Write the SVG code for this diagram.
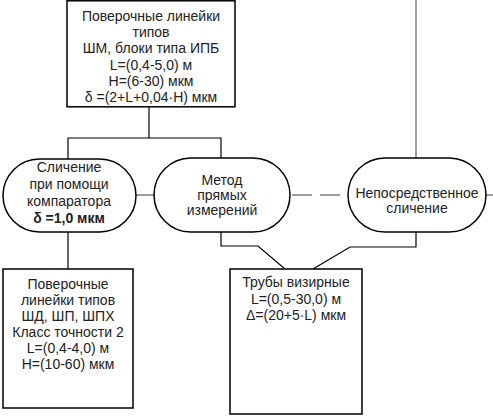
<svg xmlns="http://www.w3.org/2000/svg" width="493" height="416" viewBox="0 0 493 416">
<style>
.box{fill:#fff;stroke:#000;stroke-width:1.5}
.pill{fill:#fff;stroke:#000;stroke-width:1.5}
.ln{fill:none;stroke:#000;stroke-width:1.2}
.gl{fill:none;stroke:#808080;stroke-width:1.5}
.dl{fill:none;stroke:#808080;stroke-width:1.5;stroke-dasharray:20 8}
text{font-family:"Liberation Sans",Arial,sans-serif;font-size:14px;fill:#222;text-anchor:middle}
.b{font-weight:bold}
</style>
<rect width="493" height="416" fill="#fff"/>
<g id="connectors">
<line class="gl" x1="416" y1="0" x2="416" y2="158"/>
<polyline class="ln" points="149,107 149,138"/>
<polyline class="ln" points="68,159 68,138 221,138 221,158"/>
<line class="ln" x1="68" y1="232" x2="68" y2="269"/>
<line class="gl" x1="136" y1="195" x2="154" y2="195"/>
<line class="dl" x1="290" y1="195" x2="348" y2="195" stroke-dashoffset="-2"/>
<line class="gl" x1="486" y1="195" x2="493" y2="195"/>
<polyline class="ln" points="221,232 221,246 258,246 285,269"/>
<polyline class="ln" points="416,232 416,247 350,247 313,269"/>
</g>
<g id="top">
<rect class="box" x="67" y="0.8" width="168" height="106"/>
<text x="151" y="21">Поверочные  линейки</text>
<text x="151" y="37">типов</text>
<text x="151" y="53">ШМ, блоки типа ИПБ</text>
<text x="151" y="70">L=(0,4-5,0) м</text>
<text x="151" y="86">H=(6-30) мкм</text>
<text x="151" y="102">δ =(2+L+0,04·H) мкм</text>
</g>
<g id="comparator">
<rect class="pill" x="3" y="159" width="133" height="73" rx="36.5"/>
<text x="69" y="172">Сличение</text>
<text x="69" y="189">при помощи</text>
<text x="69" y="206">компаратора</text>
<text x="69" y="223" class="b">δ =1,0 мкм</text>
</g>
<g id="direct">
<rect class="pill" x="154" y="158" width="136" height="74" rx="37"/>
<text x="222" y="185">Метод</text>
<text x="222" y="200">прямых</text>
<text x="222" y="215">измерений</text>
</g>
<g id="immediate">
<rect class="pill" x="348" y="158" width="138" height="74" rx="37"/>
<text x="417" y="198">Непосредственное</text>
<text x="417" y="213">сличение</text>
</g>
<g id="rulers">
<rect class="box" x="3" y="269" width="130" height="139"/>
<text x="68" y="289">Поверочные</text>
<text x="68" y="305">линейки типов</text>
<text x="68" y="321">ШД, ШП, ШПХ</text>
<text x="68" y="337">Класс точности 2</text>
<text x="68" y="353">L=(0,4-4,0) м</text>
<text x="68" y="369">H=(10-60) мкм</text>
</g>
<g id="tubes">
<rect class="box" x="230" y="269" width="132" height="145"/>
<text x="296" y="287">Трубы визирные</text>
<text x="296" y="304">L=(0,5-30,0) м</text>
<text x="296" y="320">Δ=(20+5·L) мкм</text>
</g>
</svg>
